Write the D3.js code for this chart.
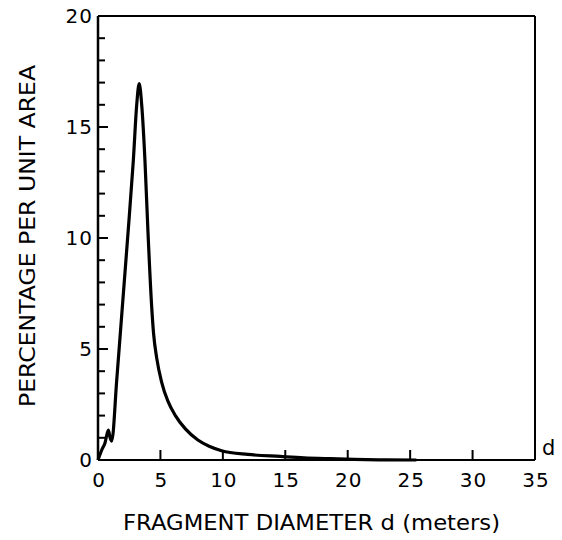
<!DOCTYPE html>
<html><head><meta charset="utf-8">
<script src="https://cdn.jsdelivr.net/npm/d3@7"></script>
<style>body{margin:0;background:#fff}svg{display:block}text{font-family:"DejaVu Sans","Liberation Sans",Arial,sans-serif;fill:#000}</style>
</head><body><svg id="c" width="562" height="540"></svg>
<script>
const diameter = [0, 0.3, 0.56, 0.83, 0.97, 1.1, 1.5, 1.95, 2.4, 2.83, 3.1, 3.3, 3.5, 3.76, 4.0, 4.3, 4.45, 4.7, 5.1, 5.6, 6.2, 7.0, 8.0, 8.9, 9.9, 12.0, 14.6, 16.5, 18.6, 20.5, 22.5, 25.5];
const percent  = [0, 0.45, 0.77, 1.35, 1.0, 0.85, 3.6, 6.9, 10.2, 13.5, 16.0, 16.95, 16.0, 13.5, 10.3, 6.9, 5.7, 4.6, 3.5, 2.65, 2.0, 1.4, 0.9, 0.62, 0.42, 0.25, 0.16, 0.1, 0.06, 0.03, 0.01, 0];
const xTicks = [0, 5, 10, 15, 20, 25, 30, 35];
const yTicks = [0, 5, 10, 15, 20];
const yMinor = [1, 2, 3, 4, 6, 7, 8, 9, 11, 12, 13, 14, 16, 17, 18, 19];
const xTitle = "FRAGMENT DIAMETER d (meters)";
const yTitle = "PERCENTAGE PER UNIT AREA";
const axisName = "d";

const svg = d3.select("#c");
const x = d3.scaleLinear().domain([0, 35]).range([98, 535]);
const y = d3.scaleLinear().domain([0, 20]).range([460, 16]);

// tick marks (inward)
const tk = svg.append("g").attr("fill", "#000");
tk.selectAll("rect.ymin").data(yMinor).join("rect").attr("class", "ymin")
  .attr("x", x(0)).attr("y", d => y(d) - 1).attr("width", 7).attr("height", 2);
tk.selectAll("rect.ymaj").data(yTicks.filter(d => d > 0 && d < 20)).join("rect").attr("class", "ymaj")
  .attr("x", x(0)).attr("y", d => y(d) - 1).attr("width", 10).attr("height", 2);
tk.selectAll("rect.xmaj").data(xTicks.filter(d => d > 0 && d < 35)).join("rect").attr("class", "xmaj")
  .attr("x", d => x(d) - 1).attr("y", y(0) - 10).attr("width", 2).attr("height", 10);

// tick labels
svg.append("g").selectAll("text").data(yTicks).join("text")
  .attr("x", x(0) - 5).attr("y", d => y(d) + 7)
  .attr("text-anchor", "end").attr("font-size", 20).attr("letter-spacing", 1).text(d => d);
svg.append("g").selectAll("text").data(xTicks).join("text")
  .attr("x", d => x(d) + 1).attr("y", 487)
  .attr("text-anchor", "middle").attr("font-size", 20).attr("letter-spacing", 1).text(d => d);

// frame
const fr = svg.append("g").attr("stroke", "#000").attr("fill", "none");
fr.append("line").attr("x1", x(0)).attr("x2", x(0)).attr("y1", y(0)).attr("y2", y(20)).attr("stroke-width", 2.5);
fr.append("line").attr("x1", x(0)).attr("x2", x(35)).attr("y1", y(0)).attr("y2", y(0)).attr("stroke-width", 2);
fr.append("line").attr("x1", x(0)).attr("x2", x(35)).attr("y1", y(20)).attr("y2", y(20)).attr("stroke-width", 2);
fr.append("line").attr("x1", x(35)).attr("x2", x(35)).attr("y1", y(0)).attr("y2", y(20)).attr("stroke-width", 2);

// curve
const line = d3.line().x((d, i) => x(diameter[i])).y((d, i) => y(percent[i])).curve(d3.curveMonotoneX);
svg.append("path").datum(percent).attr("d", line).attr("fill", "none")
  .attr("stroke", "#000").attr("stroke-width", 3.2).attr("stroke-linejoin", "round");

// titles
svg.append("text").attr("x", 123).attr("y", 530).attr("font-size", 21)
  .attr("textLength", 377).attr("lengthAdjust", "spacingAndGlyphs").text(xTitle);
svg.append("text").attr("transform", "translate(35,407) rotate(-90)").attr("font-size", 21)
  .attr("textLength", 342).attr("lengthAdjust", "spacingAndGlyphs").text(yTitle);
svg.append("text").attr("x", 542).attr("y", 455).attr("font-size", 21).text(axisName);
</script></body></html>
